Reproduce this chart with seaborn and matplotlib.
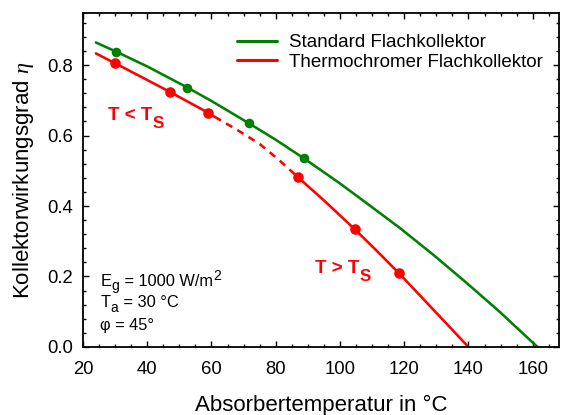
import numpy as np
import pandas as pd
import matplotlib
matplotlib.use("Agg")
import matplotlib.pyplot as plt
import seaborn as sns
from matplotlib.lines import Line2D
from matplotlib.ticker import MultipleLocator, FormatStrFormatter

# values
std_curve_T = [24.0, 30.3, 40.0, 52.5, 60.0, 71.6, 80.0, 88.8, 100.0, 108.3,
               118.6, 129.0, 139.4, 149.7, 155.0, 161.5]
std_curve_eta = [0.864, 0.838, 0.796, 0.736, 0.698, 0.635, 0.588, 0.535, 0.464, 0.408,
                 0.338, 0.262, 0.182, 0.100, 0.055, 0.0]
std_marker_T = [30.3, 52.5, 71.6, 88.8]
std_marker_eta = [0.838, 0.736, 0.635, 0.535]

thermo_low_T = [24.0, 30.0, 38.0, 47.0, 58.9, 61.0]
thermo_low_eta = [0.833, 0.805, 0.767, 0.724, 0.665, 0.653]
thermo_dash_T = [61.0, 68.0, 75.0, 81.0, 87.0]
thermo_dash_eta = [0.653, 0.616, 0.576, 0.531, 0.481]
thermo_high_T = [87.0, 95.0, 104.6, 111.0, 118.4, 130.0, 140.0]
thermo_high_eta = [0.481, 0.416, 0.334, 0.277, 0.209, 0.097, 0.0]
thermo_marker_T = [30.0, 47.0, 58.9, 87.0, 104.6, 118.4]
thermo_marker_eta = [0.805, 0.724, 0.665, 0.481, 0.334, 0.209]

legend_labels = ["Standard Flachkollektor", "Thermochromer Flachkollektor"]

GREEN = "#008000"
RED = "#ff0000"

sns.set_theme(style="ticks")
plt.rcParams["font.family"] = ["Liberation Sans", "DejaVu Sans"]
plt.rcParams["mathtext.fontset"] = "custom"
plt.rcParams["mathtext.rm"] = "Liberation Sans"
plt.rcParams["mathtext.it"] = "Liberation Serif:italic"
plt.rcParams["text.color"] = "black"
plt.rcParams["axes.labelcolor"] = "black"


def chain_text(ax, x, y, pieces, **kw):
    # pieces: (text, vertical offset in points from the base line, size factor)
    size = kw.pop("fontsize")
    first, dy0, f0 = pieces[0]
    t = ax.text(x, y, first, transform=ax.transAxes, fontsize=size * f0,
                ha="left", va="bottom", **kw)
    prev = dy0
    for txt, dy, f in pieces[1:]:
        t = ax.annotate(txt, xy=(1, 0), xycoords=t, xytext=(0.3, dy - prev),
                        textcoords="offset points", fontsize=size * f,
                        ha="left", va="bottom", **kw)
        prev = dy
    return t


fig = plt.figure(figsize=(5.62, 4.15), dpi=100)
ax = fig.add_axes([0.1477, 0.1639, 0.9947 - 0.1477, 0.969 - 0.1639])

lw = 1.85
sns.lineplot(x=std_curve_T, y=std_curve_eta, color=GREEN, lw=lw, ax=ax, sort=False)
sns.lineplot(x=thermo_low_T, y=thermo_low_eta, color=RED, lw=lw, ax=ax, sort=False)
sns.lineplot(x=thermo_dash_T, y=thermo_dash_eta, color=RED, lw=lw, ax=ax, sort=False,
             linestyle=(0, (2.8, 2.3)))
sns.lineplot(x=thermo_high_T, y=thermo_high_eta, color=RED, lw=lw, ax=ax, sort=False)
sns.scatterplot(x=std_marker_T, y=std_marker_eta, color=GREEN, s=48, linewidth=0, ax=ax, zorder=3)
sns.scatterplot(x=thermo_marker_T, y=thermo_marker_eta, color=RED, s=58, linewidth=0, ax=ax, zorder=3)

ax.set_xlim(20, 168.2)
ax.set_ylim(0, 0.948)
ax.xaxis.set_major_locator(MultipleLocator(20))
ax.xaxis.set_minor_locator(MultipleLocator(5))
ax.yaxis.set_major_locator(MultipleLocator(0.2))
ax.yaxis.set_minor_locator(MultipleLocator(0.04))
ax.yaxis.set_major_formatter(FormatStrFormatter("%.1f"))
ax.tick_params(which="both", direction="in", top=True, right=True, width=1, colors="black")
ax.tick_params(which="major", length=4.5, labelsize=13.3)
ax.tick_params(which="minor", length=2.5)
ax.tick_params(axis="x", which="major", pad=10)
ax.tick_params(axis="y", which="major", pad=7)
for s in ax.spines.values():
    s.set_linewidth(1.3)
    s.set_color("black")

ax.set_xlabel("Absorbertemperatur in °C", fontsize=16, labelpad=12)
ax.set_ylabel(r"Kollektorwirkungsgrad $\eta$", fontsize=16, labelpad=8)

handles = [Line2D([], [], color=GREEN, lw=2.2), Line2D([], [], color=RED, lw=2.2)]
ax.legend(handles, legend_labels, frameon=False, loc="upper left", fontsize=13.5,
          handlelength=2.15, handletextpad=0.62, labelspacing=0.12,
          bbox_to_anchor=(0.323, 0.936), borderaxespad=0.0, borderpad=0.0)

red_kw = dict(color=RED, fontweight="bold", fontsize=13.5)
chain_text(ax, 0.0525, 0.667, [("T < T", 0, 1.0), ("S", -4.8, 0.9)], **red_kw)
chain_text(ax, 0.487, 0.209, [("T > T", 0, 1.0), ("S", -4.8, 0.9)], **red_kw)

txt_kw = dict(color="black", fontsize=11.8)
chain_text(ax, 0.036, 0.175, [("E", 0, 1.0), ("g", -3.5, 0.85),
                               (" = 1000 W/m", 0, 1.0), ("2", 4.0, 0.85)], **txt_kw)
chain_text(ax, 0.036, 0.110, [("T", 0, 1.0), ("a", -3.5, 0.85), (" = 30 °C", 0, 1.0)], **txt_kw)
chain_text(ax, 0.036, 0.041, [("φ = 45°", 0, 1.0)], **txt_kw)

fig.savefig("out.png", dpi=100)
